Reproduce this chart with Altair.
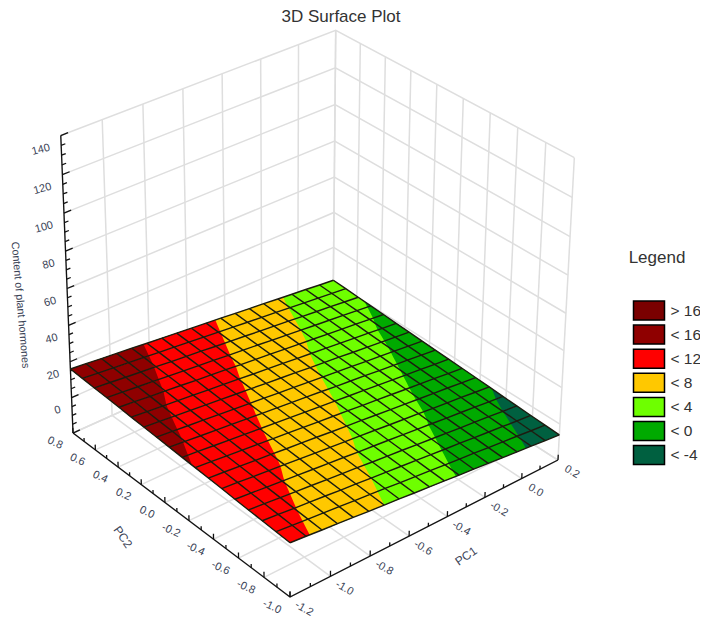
import altair as alt
import pandas as pd

# axis ranges and ticks
PC1_TICKS = [-1.2, -1.0, -0.8, -0.6, -0.4, -0.2, 0.0, 0.2]
PC2_TICKS = [0.8, 0.6, 0.4, 0.2, 0.0, -0.2, -0.4, -0.6, -0.8, -1.0]
Z_TICKS = [-20, 0, 20, 40, 60, 80, 100, 120, 140]
Z_LABELS = [0, 20, 40, 60, 80, 100, 120, 140]

# surface grid
PC1_GRID = [-1.2, -1.122, -1.044, -0.967, -0.889, -0.811, -0.733, -0.656, -0.578, -0.5,
            -0.422, -0.344, -0.267, -0.189, -0.111, -0.033, 0.044, 0.122, 0.2]
PC2_GRID = [-1.0, -0.894, -0.788, -0.682, -0.576, -0.471, -0.365, -0.259, -0.153,
            -0.047, 0.059, 0.165, 0.271, 0.376, 0.482, 0.588, 0.694, 0.8]
Z_ROWS = [
    [9.0, 8.2, 7.3, 6.5, 5.7, 4.8, 4.0, 3.2, 2.3, 1.5, 0.7, -0.2, -1.0, -1.8, -2.7, -3.5, -4.3, -5.2, -6.0],
    [9.4, 8.6, 7.7, 6.9, 6.1, 5.2, 4.4, 3.6, 2.7, 1.9, 1.1, 0.2, -0.6, -1.4, -2.3, -3.1, -3.9, -4.8, -5.6],
    [9.8, 9.0, 8.1, 7.3, 6.5, 5.6, 4.8, 4.0, 3.1, 2.3, 1.5, 0.6, -0.2, -1.0, -1.9, -2.7, -3.5, -4.4, -5.2],
    [10.2, 9.4, 8.5, 7.7, 6.9, 6.0, 5.2, 4.4, 3.5, 2.7, 1.9, 1.0, 0.2, -0.6, -1.5, -2.3, -3.1, -4.0, -4.8],
    [10.6, 9.8, 8.9, 8.1, 7.3, 6.4, 5.6, 4.8, 3.9, 3.1, 2.3, 1.4, 0.6, -0.2, -1.1, -1.9, -2.7, -3.6, -4.4],
    [11.1, 10.3, 9.4, 8.6, 7.8, 6.9, 6.1, 5.3, 4.4, 3.6, 2.8, 1.9, 1.1, 0.3, -0.6, -1.4, -2.2, -3.1, -3.9],
    [11.5, 10.7, 9.8, 9.0, 8.2, 7.3, 6.5, 5.7, 4.8, 4.0, 3.2, 2.3, 1.5, 0.7, -0.2, -1.0, -1.8, -2.7, -3.5],
    [11.9, 11.1, 10.2, 9.4, 8.6, 7.7, 6.9, 6.1, 5.2, 4.4, 3.6, 2.7, 1.9, 1.1, 0.2, -0.6, -1.4, -2.3, -3.1],
    [12.3, 11.5, 10.6, 9.8, 9.0, 8.1, 7.3, 6.5, 5.6, 4.8, 4.0, 3.1, 2.3, 1.5, 0.6, -0.2, -1.0, -1.9, -2.7],
    [12.7, 11.9, 11.0, 10.2, 9.4, 8.5, 7.7, 6.9, 6.0, 5.2, 4.4, 3.5, 2.7, 1.9, 1.0, 0.2, -0.6, -1.5, -2.3],
    [13.1, 12.3, 11.4, 10.6, 9.8, 8.9, 8.1, 7.3, 6.4, 5.6, 4.8, 3.9, 3.1, 2.3, 1.4, 0.6, -0.2, -1.1, -1.9],
    [13.5, 12.7, 11.8, 11.0, 10.2, 9.3, 8.5, 7.7, 6.8, 6.0, 5.2, 4.3, 3.5, 2.7, 1.8, 1.0, 0.2, -0.7, -1.5],
    [13.9, 13.1, 12.2, 11.4, 10.6, 9.7, 8.9, 8.1, 7.2, 6.4, 5.6, 4.7, 3.9, 3.1, 2.2, 1.4, 0.6, -0.3, -1.1],
    [14.4, 13.6, 12.7, 11.9, 11.1, 10.2, 9.4, 8.6, 7.7, 6.9, 6.1, 5.2, 4.4, 3.6, 2.7, 1.9, 1.1, 0.2, -0.6],
    [14.8, 14.0, 13.1, 12.3, 11.5, 10.6, 9.8, 9.0, 8.1, 7.3, 6.5, 5.6, 4.8, 4.0, 3.1, 2.3, 1.5, 0.6, -0.2],
    [15.2, 14.4, 13.5, 12.7, 11.9, 11.0, 10.2, 9.4, 8.5, 7.7, 6.9, 6.0, 5.2, 4.4, 3.5, 2.7, 1.9, 1.0, 0.2],
    [15.6, 14.8, 13.9, 13.1, 12.3, 11.4, 10.6, 9.8, 8.9, 8.1, 7.3, 6.4, 5.6, 4.8, 3.9, 3.1, 2.3, 1.4, 0.6],
    [16.0, 15.2, 14.3, 13.5, 12.7, 11.8, 11.0, 10.2, 9.3, 8.5, 7.7, 6.8, 6.0, 5.2, 4.3, 3.5, 2.7, 1.8, 1.0],
]

BAND_LABELS = ["> 16", "< 16", "< 12", "< 8", "< 4", "< 0", "< -4"]
BAND_LOW = [16, 12, 8, 4, 0, -4, -99]
BAND_COLORS = ["#7a0000", "#8f0000", "#ff0000", "#ffc800", "#6eff00", "#00aa00", "#006040"]

# projective camera for the box, normalised axes -> picture pixels
CAM_X = [290, 305.3, -210.5, -17]
CAM_Y = [597, -106.2, -125.6, -332]
CAM_D = [1, 0.0669, 0.0886, -0.06]


def project(pc1, pc2, z):
    n = [1, (pc1 + 1.2) / 1.4, (pc2 + 1.0) / 1.8, (z + 20) / 160]
    d = sum(a * b for a, b in zip(CAM_D, n))
    return (
        sum(a * b for a, b in zip(CAM_X, n)) / d,
        sum(a * b for a, b in zip(CAM_Y, n)) / d,
    )


line_rows = []


def add_line(kind, pts):
    gid = len(line_rows)
    for i, (a, b, c) in enumerate(pts):
        x, y = project(a, b, c)
        line_rows.append({"kind": kind, "id": f"{kind}{gid}", "i": i, "x": x, "y": y})


# walls and floor grid
for p in PC1_TICKS:
    add_line("wall", [(p, 0.8, -20), (p, 0.8, 140)])
    add_line("wall", [(p, -1.0, -20), (p, 0.8, -20)])
for p in PC2_TICKS:
    add_line("wall", [(0.2, p, -20), (0.2, p, 140)])
    add_line("wall", [(-1.2, p, -20), (0.2, p, -20)])
for t in Z_TICKS:
    add_line("wall", [(-1.2, 0.8, t), (0.2, 0.8, t), (0.2, -1.0, t)])

# black axes with ticks
add_line("axis", [(-1.2, 0.8, -20), (-1.2, -1.0, -20), (0.2, -1.0, -20)])
add_line("axis", [(-1.2, 0.8, -20), (-1.2, 0.8, 140)])
for p in PC1_TICKS:
    add_line("axis", [(p, -1.0, -20), (p, -1.0, -17)])
    if p < 0.2:
        add_line("axis", [(p + 0.1, -1.0, -20), (p + 0.1, -1.0, -18)])
for p in PC2_TICKS:
    add_line("axis", [(-1.2, p, -20), (-1.2, p, -17)])
    if p < 0.8:
        add_line("axis", [(-1.2, p + 0.1, -20), (-1.2, p + 0.1, -18)])
for t in Z_TICKS:
    add_line("axis", [(-1.2, 0.8, t), (-1.165, 0.8, t)])
    if t < 140:
        for m in (5, 10, 15):
            add_line("axis", [(-1.2, 0.8, t + m), (-1.18, 0.8, t + m)])

# surface mesh
for j, p2 in enumerate(PC2_GRID):
    add_line("mesh", [(p1, p2, Z_ROWS[j][i]) for i, p1 in enumerate(PC1_GRID)])
for i, p1 in enumerate(PC1_GRID):
    add_line("mesh", [(p1, p2, Z_ROWS[j][i]) for j, p2 in enumerate(PC2_GRID)])

lines = pd.DataFrame(line_rows)


def clip_above(poly, level):
    out = []
    for k, a in enumerate(poly):
        b = poly[(k + 1) % len(poly)]
        if a[2] >= level:
            out.append(a)
        if (a[2] >= level) != (b[2] >= level):
            t = (level - a[2]) / (b[2] - a[2])
            out.append((a[0] + t * (b[0] - a[0]), a[1] + t * (b[1] - a[1]), level))
    return out


def span_rows(poly, band, cell):
    # convex polygon -> upper and lower y for every vertex x, which is what an area needs
    rows = []
    for vx in sorted({round(p[0], 3) for p in poly}):
        ys = []
        for k, a in enumerate(poly):
            b = poly[(k + 1) % len(poly)]
            lo, hi = min(a[0], b[0]), max(a[0], b[0])
            if lo - 0.002 <= vx <= hi + 0.002:
                if hi - lo < 0.002:
                    ys += [a[1], b[1]]
                else:
                    ys.append(a[1] + (vx - a[0]) / (b[0] - a[0]) * (b[1] - a[1]))
        rows.append({"band": band, "cell": cell, "x": vx, "y": min(ys), "y2": max(ys)})
    return rows


# lowest band first, each higher band painted over it, so no gap shows between bands
patch_rows = []
cell_no = 0
for j in range(len(PC2_GRID) - 1):
    for i in range(len(PC1_GRID) - 1):
        quad = []
        for jj, ii in ((j, i), (j, i + 1), (j + 1, i + 1), (j + 1, i)):
            z = Z_ROWS[jj][ii]
            quad.append(project(PC1_GRID[ii], PC2_GRID[jj], z) + (z,))
        for band, low in zip(BAND_LABELS[::-1], BAND_LOW[::-1]):
            if max(q[2] for q in quad) > low:
                piece = clip_above(quad, low)
                if len(piece) >= 3:
                    cell_no += 1
                    patch_rows += span_rows(piece, band, cell_no)
patches = pd.DataFrame(patch_rows)

# tick label tables
pc1_labels = pd.DataFrame([
    dict(zip(("x", "y"), project(p, -1.0, -20)), text=f"{p:.1f}") for p in PC1_TICKS
])
pc2_labels = pd.DataFrame([
    dict(zip(("x", "y"), project(-1.2, p, -20)), text=f"{p:.1f}") for p in PC2_TICKS
])
z_labels = pd.DataFrame([
    dict(zip(("x", "y"), project(-1.2, 0.8, t)), text=str(t)) for t in Z_LABELS
])

x_enc = alt.X("x:Q", scale=alt.Scale(domain=[8, 700], nice=False, zero=False), axis=None)
y_enc = alt.Y("y:Q", scale=alt.Scale(domain=[619, 8], nice=False, zero=False), axis=None)
FONT = "Liberation Sans"
INK = "#3a4356"


def line_layer(kind, color, width):
    return (
        alt.Chart(lines[lines["kind"] == kind])
        .mark_line(color=color, strokeWidth=width, clip=False)
        .encode(x=x_enc, y=y_enc, detail="id:N", order="i:Q")
    )


def label_layer(df, **mark):
    return (
        alt.Chart(df)
        .mark_text(font=FONT, color=INK, fontSize=11, **mark)
        .encode(x=x_enc, y=y_enc, text="text:N")
    )


def free_text(text, x, y, **mark):
    return (
        alt.Chart(pd.DataFrame({"x": [x], "y": [y], "text": [text]}))
        .mark_text(font=FONT, **mark)
        .encode(x=x_enc, y=y_enc, text="text:N")
    )


surface = (
    alt.Chart(patches)
    .mark_area()
    .encode(
        x=x_enc,
        y=y_enc,
        y2="y2:Q",
        detail="cell:N",
        color=alt.Color(
            "band:N",
            scale=alt.Scale(domain=BAND_LABELS, range=BAND_COLORS),
            legend=alt.Legend(
                title=None,
                orient="none",
                legendX=630,
                legendY=291.5,
                symbolType="M-1.55,-0.95H1.55V0.95H-1.55Z",
                symbolSize=400,
                symbolStrokeColor="black",
                symbolStrokeWidth=1.5,
                symbolOpacity=1,
                rowPadding=-1.9,
                labelOffset=10.5,
                labelFont=FONT,
                labelFontSize=15.5,
                labelColor="#333333",
            ),
        ),
    )
)

chart = alt.layer(
    line_layer("wall", "#dedede", 1.5),
    line_layer("axis", "#111111", 1.3),
    surface,
    line_layer("mesh", "#1c1c10", 1.4),
    label_layer(pc1_labels, dx=18.1, dy=3.4, angle=30),
    label_layer(pc2_labels, dx=-12.1, dy=16.7, angle=25),
    label_layer(z_labels, dx=-13.7, dy=8.7, angle=345, align="right"),
    free_text("3D Surface Plot", 341, 17, fontSize=17, color="#333333"),
    free_text("Legend", 657, 258, fontSize=17, color="#333333"),
    free_text("PC1", 466, 556, fontSize=12, color=INK, angle=325),
    free_text("PC2", 123, 537, fontSize=12, color=INK, angle=55),
    free_text("Content of plant hormones", 20, 305, fontSize=10.8, color=INK, angle=85),
).properties(
    width=692,
    height=611,
    padding=0,
    autosize=alt.AutoSizeParams(type="none"),
).configure_view(stroke=None)

chart.save("out.html", embed_options={"renderer": "svg", "actions": False})
